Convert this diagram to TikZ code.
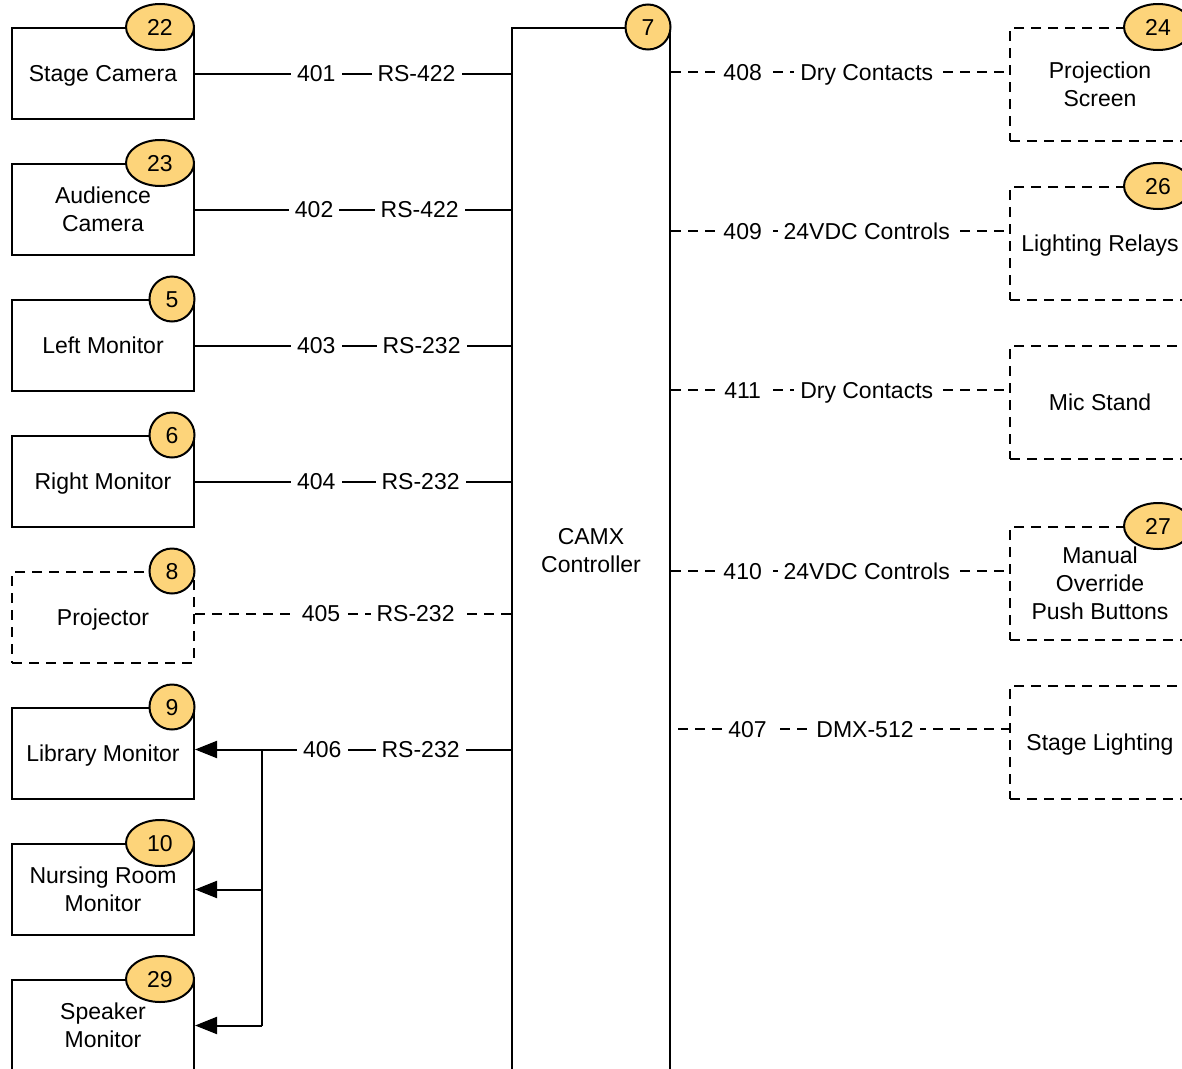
\documentclass[tikz,border=0pt]{standalone}
\usepackage{fontspec}
\setmainfont{Liberation Sans}
\usetikzlibrary{arrows.meta,shapes.geometric}
\definecolor{badgefill}{RGB}{253,212,122}
\begin{document}
\begin{tikzpicture}[x=1pt,y=-1pt,
  font=\fontsize{23}{28}\selectfont,
  dev/.style={draw,line width=2pt,minimum width=182pt,minimum height=91pt,align=center,inner sep=0pt},
  devd/.style={dev,dash pattern=on 10pt off 7pt},
  rdev/.style={draw,line width=2pt,dash pattern=on 10pt off 7pt,minimum width=180pt,minimum height=113pt,align=center,inner sep=0pt},
  one/.style={text depth=0pt},
  ctrl/.style={draw,line width=2pt,minimum width=158pt,minimum height=1046pt,align=center,inner sep=0pt},
  ebadge/.style={ellipse,draw,fill=badgefill,line width=2pt,minimum width=68pt,minimum height=46pt,inner sep=0pt,text height=16.5pt,text depth=0pt},
  cbadge/.style={circle,draw,fill=badgefill,line width=2pt,minimum size=45pt,inner sep=0pt,text height=16.5pt,text depth=0pt},
  lbl/.style={fill=white,inner xsep=6pt,inner ysep=2pt,text height=16.5pt,text depth=0pt},
  sline/.style={line width=2pt},
  dline/.style={line width=2pt,dash pattern=on 10pt off 7pt},
  arr/.style={line width=2pt,-{Triangle[length=22pt,width=17pt]}}
]
\useasboundingbox (0,0) rectangle (1182,1068);
\clip (0,0) rectangle (1182,1068);

% controller
\node[ctrl] (camx) at (591,551) {CAMX\\Controller};

% left devices
\node[dev,one]  (sc)  at (103,73.5)  {Stage Camera};
\node[dev]      (ac)  at (103,209.5) {Audience\\Camera};
\node[dev,one]  (lm)  at (103,345.5) {Left Monitor};
\node[dev,one]  (rm)  at (103,481.5) {Right Monitor};
\node[devd,one] (pj)  at (103,617.5) {Projector};
\node[dev,one]  (lib) at (103,753.5) {Library Monitor};
\node[dev]      (nr)  at (103,889.5) {Nursing Room\\Monitor};
\node[dev]      (sp)  at (103,1025.5) {Speaker\\Monitor};

% right devices
\node[rdev]     (ps) at (1100,84.5)  {Projection\\Screen};
\node[rdev,one] (lr) at (1100,243.5) {Lighting Relays};
\node[rdev,one] (ms) at (1100,402.5) {Mic Stand};
\node[rdev]     (mo) at (1100,583.5) {Manual\\Override\\Push Buttons};
\node[rdev,one] (sl) at (1100,742.5) {Stage Lighting};

% left connectors
\draw[sline] (sc.east) -- (camx.west |- sc.east)
  node[lbl,pos=0.384] {401} node[lbl,pos=0.701] {RS-422};
\draw[sline] (ac.east) -- (camx.west |- ac.east)
  node[lbl,pos=0.377] {402} node[lbl,pos=0.711] {RS-422};
\draw[sline] (lm.east) -- (camx.west |- lm.east)
  node[lbl,pos=0.384] {403} node[lbl,pos=0.717] {RS-232};
\draw[sline] (rm.east) -- (camx.west |- rm.east)
  node[lbl,pos=0.384] {404} node[lbl,pos=0.714] {RS-232};
\coordinate (c405) at ([yshift=4pt]pj.east);
\draw[dline] (c405) -- (camx.west |- c405)
  node[lbl,pos=0.399] {405} node[lbl,pos=0.698] {RS-232};
\coordinate (c406) at ([yshift=4pt]lib.east);
\draw[arr] (camx.west |- c406) -- (c406)
  node[lbl,pos=0.597] {406} node[lbl,pos=0.286] {RS-232};
\coordinate (br) at (262,749);
\draw[sline] (br) -- (br |- sp.east);
\draw[arr] (br |- nr.east) -- (nr.east);
\draw[arr] (br |- sp.east) -- (sp.east);

% right connectors
\coordinate (c408) at ([yshift=-45pt]ps.north west);
\draw[dline] (camx.east |- c408) -- (c408)
  node[lbl,pos=0.212] {408} node[lbl,pos=0.579] {Dry Contacts};
\coordinate (c409) at ([yshift=-45pt]lr.north west);
\draw[dline] (camx.east |- c409) -- (c409)
  node[lbl,pos=0.212] {409} node[lbl,pos=0.579] {24VDC Controls};
\coordinate (c411) at ([yshift=-45pt]ms.north west);
\draw[dline] (camx.east |- c411) -- (c411)
  node[lbl,pos=0.212] {411} node[lbl,pos=0.579] {Dry Contacts};
\coordinate (c410) at ([yshift=-45pt]mo.north west);
\draw[dline] (camx.east |- c410) -- (c410)
  node[lbl,pos=0.212] {410} node[lbl,pos=0.579] {24VDC Controls};
\coordinate (c407) at ([yshift=-44pt]sl.north west);
\draw[dline] ([xshift=7pt]camx.east |- c407) -- (c407)
  node[lbl,pos=0.21] {407} node[lbl,pos=0.565] {DMX-512};

% badges
\node[ebadge] at ([xshift=-35pt]sc.north east) {22};
\node[ebadge] at ([xshift=-35pt]ac.north east) {23};
\node[cbadge] at ([xshift=-23pt]lm.north east) {5};
\node[cbadge] at ([xshift=-23pt]rm.north east) {6};
\node[cbadge] at ([xshift=-23pt]pj.north east) {8};
\node[cbadge] at ([xshift=-23pt]lib.north east) {9};
\node[ebadge] at ([xshift=-35pt]nr.north east) {10};
\node[ebadge] at ([xshift=-35pt]sp.north east) {29};
\node[cbadge] at ([xshift=-23pt]camx.north east) {7};
\node[ebadge] at ([xshift=-33pt]ps.north east) {24};
\node[ebadge] at ([xshift=-33pt]lr.north east) {26};
\node[ebadge] at ([xshift=-33pt]mo.north east) {27};
\end{tikzpicture}
\end{document}
